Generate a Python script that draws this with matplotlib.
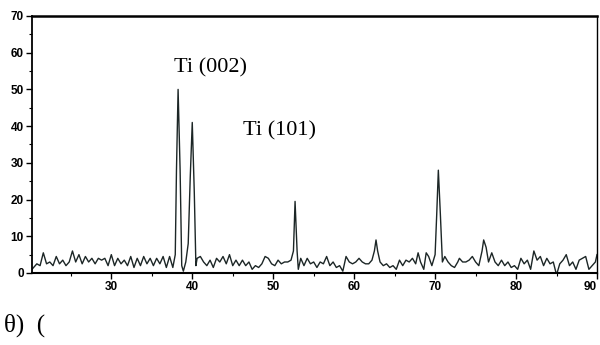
import matplotlib

matplotlib.use("Agg")
import matplotlib.pyplot as plt  # noqa: E402
from matplotlib.ticker import MultipleLocator  # noqa: E402

# XRD pattern (2-theta in degrees, intensity)
two_theta = [
    20.2, 20.4, 20.8, 21.2, 21.6, 22.0, 22.4, 22.8, 23.2, 23.6, 24.0, 24.4, 24.8,
    25.2, 25.6, 26.0, 26.4, 26.8, 27.2, 27.6, 28.0, 28.4, 28.8, 29.2, 29.6, 30.0,
    30.4, 30.8, 31.2, 31.6, 32.0, 32.4, 32.8, 33.2, 33.6, 34.0, 34.4, 34.8, 35.2,
    35.6, 36.0, 36.4, 36.8, 37.2, 37.6, 37.9, 38.05, 38.25, 38.5, 38.7, 38.9,
    39.2, 39.5, 39.75, 40.0, 40.25, 40.45, 40.6, 41.0, 41.4, 41.8, 42.2, 42.6, 43.0,
    43.4, 43.8, 44.2, 44.6, 45.0, 45.4, 45.8, 46.2, 46.6, 47.0, 47.4, 47.8, 48.2,
    48.6, 49.0, 49.4, 49.8, 50.2, 50.6, 51.0, 51.4, 51.8, 52.2, 52.5, 52.7, 52.95,
    53.1, 53.4, 53.8, 54.2, 54.6, 55.0, 55.4, 55.8, 56.2, 56.6, 57.0, 57.4, 57.8,
    58.2, 58.6, 59.0, 59.4, 59.8, 60.2, 60.6, 61.0, 61.4, 61.8, 62.2, 62.5, 62.7,
    62.9, 63.2, 63.6, 64.0, 64.4, 64.8, 65.2, 65.6, 66.0, 66.4, 66.8, 67.2, 67.6,
    67.9, 68.2, 68.6, 68.9, 69.2, 69.6, 70.0, 70.2, 70.4, 70.65, 70.9, 71.2, 71.6,
    72.0, 72.4, 72.8, 73.0, 73.4, 73.8, 74.2, 74.6, 75.0, 75.4, 75.8, 76.0, 76.3,
    76.6, 77.0, 77.4, 77.8, 78.2, 78.6, 79.0, 79.4, 79.8, 80.2, 80.6, 81.0, 81.4,
    81.8, 82.2, 82.6, 83.0, 83.4, 83.8, 84.2, 84.6, 85.0, 85.4, 85.8, 86.2, 86.6,
    87.0, 87.4, 87.8, 88.2, 88.6, 89.0, 89.4, 89.8, 90.0,
]
intensity = [
    1.0, 1.5, 2.5, 2.0, 5.5, 2.5, 3.0, 2.0, 4.5, 2.5, 3.5, 2.0, 3.0,
    6.0, 3.0, 5.0, 2.5, 4.5, 3.0, 4.0, 2.5, 4.0, 3.5, 4.0, 2.0, 5.0,
    2.0, 4.0, 2.5, 3.5, 2.0, 4.5, 1.5, 4.0, 2.0, 4.5, 2.5, 4.0, 2.0,
    4.0, 2.5, 4.5, 1.5, 4.5, 1.5, 5.0, 28.0, 50.0, 28.0, 2.0, 0.5,
    3.0, 8.0, 26.0, 41.0, 22.0, 2.0, 4.0, 4.5, 3.0, 2.0, 3.5, 1.5, 4.0,
    3.0, 4.5, 2.5, 5.0, 2.0, 3.5, 2.0, 3.5, 2.0, 3.0, 1.0, 2.0, 1.5,
    2.5, 4.5, 4.0, 2.5, 2.0, 3.5, 2.5, 3.0, 3.0, 3.5, 6.0, 19.5, 6.0,
    1.0, 4.0, 2.0, 4.0, 2.5, 3.0, 1.5, 3.0, 2.5, 4.5, 2.0, 3.0, 1.5,
    2.0, 0.5, 4.5, 3.0, 2.5, 3.0, 4.0, 3.0, 2.5, 2.5, 3.5, 6.0, 9.0,
    6.0, 3.0, 2.0, 2.5, 1.5, 2.0, 1.0, 3.5, 2.0, 3.5, 3.0, 4.0, 2.5,
    5.5, 3.0, 1.0, 5.5, 4.5, 2.0, 5.0, 16.0, 28.0, 16.0, 3.0, 4.5, 3.0,
    2.0, 1.5, 3.0, 4.0, 3.0, 3.0, 3.5, 4.5, 3.0, 2.0, 6.0, 9.0, 7.0,
    3.0, 5.5, 3.0, 2.0, 3.5, 2.0, 3.0, 1.5, 2.0, 1.0, 4.0, 2.5, 3.5,
    1.0, 6.0, 3.5, 4.5, 2.0, 4.0, 2.5, 3.0, -0.5, 2.5, 3.5, 5.0, 2.0,
    3.0, 1.0, 3.5, 4.0, 4.5, 1.0, 2.0, 3.0, 5.0,
]

x_ticks = [30, 40, 50, 60, 70, 80, 90]
y_ticks = [0, 10, 20, 30, 40, 50, 60, 70]

peak_labels = ["Ti (002)", "Ti (101)"]
label_pos = [(37.8, 56.0), (46.3, 38.8)]

fig = plt.figure(figsize=(6.0, 3.45), dpi=100)
ax = fig.add_axes([0.0533, 0.2087, 0.9417, 0.745])

ax.plot(two_theta, intensity, color="#1c2626", linewidth=1.0)

ax.set_xlim(20.2, 90)
ax.set_ylim(0, 70)
ax.set_xticks(x_ticks)
ax.set_yticks(y_ticks)
ax.xaxis.set_minor_locator(MultipleLocator(5))
ax.yaxis.set_minor_locator(MultipleLocator(5))
ax.tick_params(which="major", direction="out", length=4, width=1.0,
               labelsize=8.5, pad=2)
ax.tick_params(which="minor", direction="out", length=2.5, width=0.8)
for lab in ax.get_xticklabels() + ax.get_yticklabels():
    lab.set_fontweight("bold")
    lab.set_family("Liberation Sans")
# the last x label sits on the right edge; nudge it inside the figure
ax.get_xticklabels()[-1].set_horizontalalignment("right")

ax.spines["top"].set_linewidth(1.8)
ax.spines["left"].set_linewidth(1.3)
ax.spines["bottom"].set_linewidth(1.5)
ax.spines["right"].set_linewidth(1.0)

for text, (lx, ly) in zip(peak_labels, label_pos):
    ax.text(lx, ly, text, family="Liberation Serif", fontsize=16,
            ha="left", va="center")

fig.text(0.007, 0.058, "θ)  (", family="Liberation Serif", fontsize=18,
         ha="left", va="center")

fig.savefig("out.png", dpi=100)
